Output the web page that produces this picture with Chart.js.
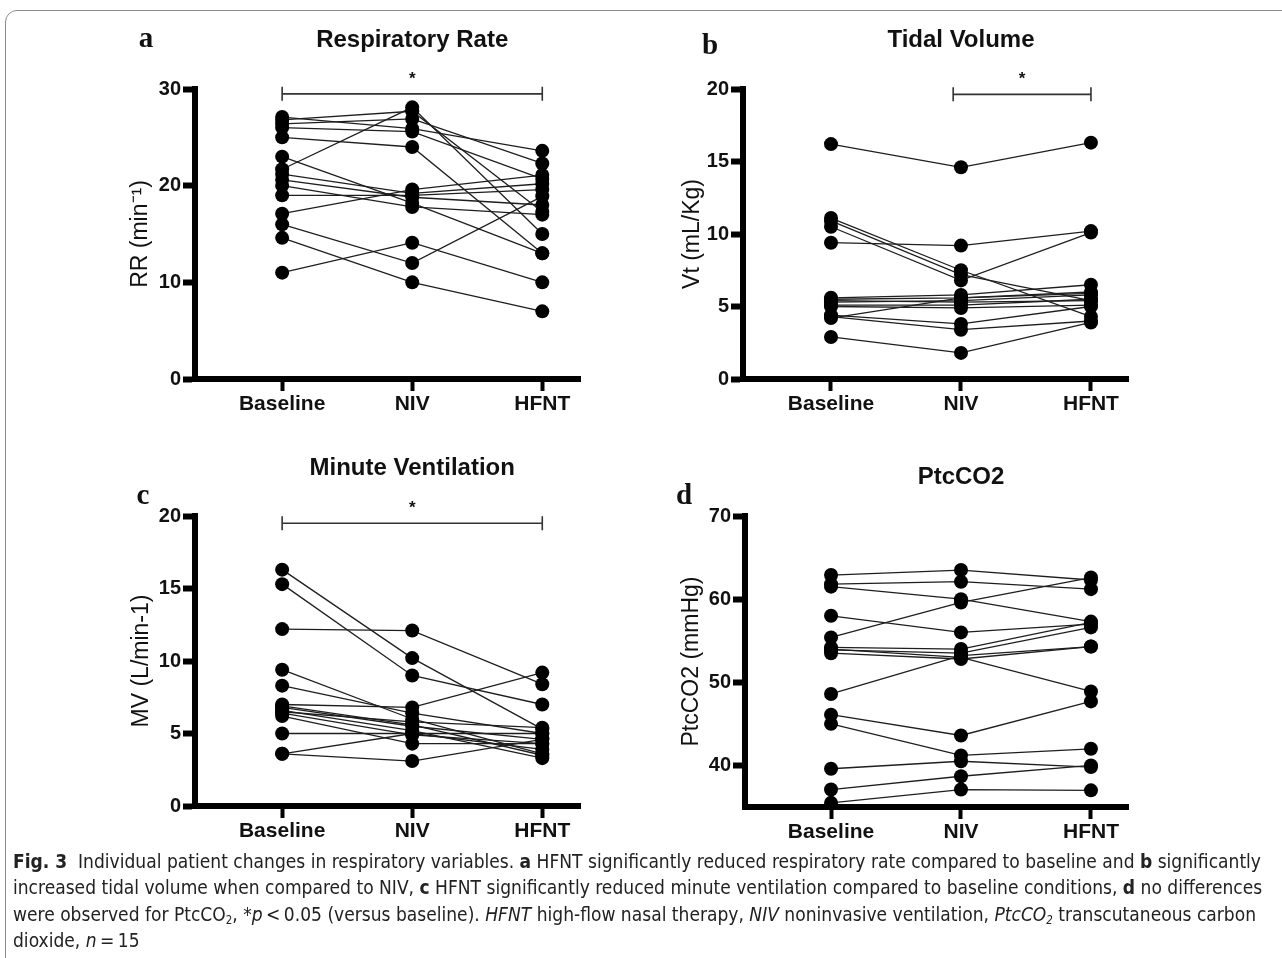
<!DOCTYPE html>
<html>
<head>
<meta charset="utf-8">
<script src="https://cdn.jsdelivr.net/npm/chart.js@4.4.1/dist/chart.umd.min.js"></script>
<style>
  body { margin: 0; background: #fff; width: 1282px; height: 958px; overflow: hidden; position: relative; }
  #frame { position: absolute; left: 5px; top: 10px; width: 1320px; height: 1000px;
           border: 1.5px solid #8c8c8c; border-top-left-radius: 12px; box-sizing: border-box; }
  canvas { position: absolute; }
  #caption { position: absolute; left: 13px; top: 848px; font-family: "Liberation Sans Narrow", "DejaVu Sans Condensed", "Liberation Sans", sans-serif;
             font-size: 20px; color: #222; }
  #caption .ln { white-space: nowrap; height: 26.3px; line-height: 26.3px; transform-origin: left center; }
  #caption sub { font-size: 12px; vertical-align: -3px; line-height: 0; }
</style>
</head>
<body>
<div id="frame"></div>
<canvas id="chartA" width="500" height="410" style="left:100px;top:20px"></canvas>
<canvas id="chartB" width="500" height="410" style="left:650px;top:20px"></canvas>
<canvas id="chartC" width="500" height="410" style="left:100px;top:440px"></canvas>
<canvas id="chartD" width="500" height="410" style="left:650px;top:440px"></canvas>

<div id="caption">
  <div class="ln"><b>Fig. 3</b>&nbsp; Individual patient changes in respiratory variables. <b>a</b> HFNT significantly reduced respiratory rate compared to baseline and <b>b</b> significantly</div>
  <div class="ln">increased tidal volume when compared to NIV, <b>c</b> HFNT significantly reduced minute ventilation compared to baseline conditions, <b>d</b> no differences</div>
  <div class="ln">were observed for PtcCO<sub>2</sub>, *<i>p</i>&thinsp;&lt;&thinsp;0.05 (versus baseline). <i>HFNT</i> high-flow nasal therapy, <i>NIV</i> noninvasive ventilation, <i>PtcCO<sub>2</sub></i> transcutaneous carbon</div>
  <div class="ln">dioxide, <i>n</i>&thinsp;=&thinsp;15</div>
</div>

<script>
const categories = ["Baseline", "NIV", "HFNT"];

// one entry per patient (n = 15)
const rrBaseline = [27.1, 26.8, 26.4, 26.0, 25.0, 23.0, 21.7, 21.2, 20.6, 20.0, 19.0, 17.1, 16.0, 14.6, 11.0];
const rrNIV      = [25.9, 27.7, 26.9, 25.6, 24.0, 18.2, 28.1, 19.2, 18.8, 17.8, 19.0, 19.6, 12.0, 10.0, 14.1];
const rrHFNT     = [23.6, 17.3, 22.3, 20.7, 13.0, 13.0, 15.0, 20.2, 18.0, 17.0, 19.6, 21.1, 18.9, 7.0, 10.0];

const vtBaseline = [16.2, 11.1, 10.9, 10.5, 9.4, 5.6, 5.5, 5.3, 5.1, 5.0, 4.4, 4.3, 4.2, 2.9, 5.4];
const vtNIV      = [14.6, 7.5, 7.2, 6.8, 9.2, 5.8, 5.6, 5.4, 5.1, 4.9, 3.8, 3.4, 5.6, 1.8, 5.3];
const vtHFNT     = [16.3, 4.3, 5.4, 10.1, 10.2, 6.5, 6.0, 5.8, 5.5, 5.1, 5.0, 4.0, 5.9, 3.9, 5.4];

const mvBaseline = [16.3, 15.3, 12.2, 9.4, 8.3, 7.0, 6.8, 6.6, 6.4, 6.2, 5.0, 3.6, 3.6, 6.5, 6.9];
const mvNIV      = [10.2, 9.0, 12.1, 6.0, 6.4, 6.8, 5.5, 5.2, 4.9, 4.3, 5.0, 3.1, 5.0, 5.8, 5.6];
const mvHFNT     = [5.3, 7.0, 8.4, 3.6, 5.0, 9.2, 4.6, 3.3, 4.3, 4.3, 5.0, 4.6, 3.9, 5.4, 3.5];

const pcBaseline = [62.9, 61.8, 61.5, 58.0, 55.4, 54.2, 53.9, 53.5, 54.0, 48.6, 46.1, 45.0, 39.6, 37.1, 35.5];
const pcNIV      = [63.5, 62.1, 60.0, 56.0, 59.6, 54.0, 53.5, 52.8, 53.0, 53.2, 43.6, 41.2, 40.5, 38.7, 37.1];
const pcHFNT     = [62.3, 61.2, 57.3, 57.0, 62.6, 57.2, 56.6, 54.3, 48.9, 54.3, 47.7, 42.0, 39.8, 40.0, 37.0];

const rrTicks = [0, 10, 20, 30];
const vtTicks = [0, 5, 10, 15, 20];
const mvTicks = [0, 5, 10, 15, 20];
const pcTicks = [40, 50, 60, 70];

const SANS = '"Liberation Sans", Arial, sans-serif';

const annot = {
  id: "annot",
  afterDraw(chart, args, o) {
    const { ctx, chartArea } = chart;
    const x = chart.scales.x, y = chart.scales.y;
    ctx.save();
    ctx.fillStyle = "#111";
    ctx.textAlign = "center";
    ctx.textBaseline = "middle";
    ctx.font = "bold 24px " + SANS;
    ctx.fillText(o.title, x.getPixelForValue(1), chartArea.top - o.titleGap);
    ctx.font = 'bold 29px "Liberation Serif", "DejaVu Serif", serif';
    ctx.fillText(o.letter, o.letterX, o.letterY);
    if (o.sig) {
      const x1 = x.getPixelForValue(o.sig[0]);
      const x2 = x.getPixelForValue(o.sig[1]);
      const yy = y.getPixelForValue(o.sig[2]);
      ctx.strokeStyle = "#333";
      ctx.lineWidth = 1.6;
      ctx.beginPath();
      ctx.moveTo(x1, yy); ctx.lineTo(x2, yy);
      ctx.moveTo(x1, yy - 7); ctx.lineTo(x1, yy + 7);
      ctx.moveTo(x2, yy - 7); ctx.lineTo(x2, yy + 7);
      ctx.stroke();
      ctx.font = "bold 17px " + SANS;
      ctx.fillText("*", (x1 + x2) / 2, yy - 15);
    }
    ctx.restore();
  }
};

function makePanel(id, base, niv, hfnt, p) {
  const datasets = base.map((b, i) => ({
    data: [{ x: 0, y: b }, { x: 1, y: niv[i] }, { x: 2, y: hfnt[i] }],
    showLine: true,
    borderColor: "#1e1e1e",
    borderWidth: 1.3,
    pointRadius: 7,
    pointBackgroundColor: "#000",
    pointBorderWidth: 0,
    clip: false
  }));
  const axisGrid = { display: true, drawOnChartArea: false, drawTicks: true, color: "#000" };
  return new Chart(document.getElementById(id), {
    type: "scatter",
    data: { datasets },
    plugins: [annot],
    options: {
      responsive: false,
      animation: false,
      devicePixelRatio: 1,
      events: [],
      layout: { padding: { top: p.padTop, right: p.padRight, left: 0, bottom: 0 } },
      plugins: {
        legend: { display: false },
        tooltip: { enabled: false },
        annot: p.annot
      },
      scales: {
        x: {
          type: "linear",
          min: p.xMin, max: p.xMax,
          afterBuildTicks: (ax) => { ax.ticks = categories.map((c, i) => ({ value: i })); },
          afterFit: (s) => { s.height = p.xHeight; },
          ticks: { callback: (v) => categories[v], font: { family: SANS, size: 21, weight: "bold" }, color: "#111", padding: 1, maxRotation: 0 },
          grid: { ...axisGrid, tickLength: 12, tickWidth: 4 },
          border: { display: true, width: 6, color: "#000" }
        },
        y: {
          min: p.yMin, max: p.yMax,
          afterBuildTicks: (ax) => { ax.ticks = p.yTicks.map((v) => ({ value: v })); },
          afterFit: (s) => { s.width = p.yWidth; },
          ticks: { font: { family: SANS, size: 20, weight: "bold" }, color: "#111", padding: 2 },
          grid: { ...axisGrid, tickLength: 12, tickWidth: 6 },
          border: { display: true, width: 6, color: "#000" },
          title: { display: true, text: p.yTitle, font: { family: SANS, size: 23 }, color: "#111", padding: { top: p.titlePad, bottom: 0 } }
        }
      }
    }
  });
}

makePanel("chartA", rrBaseline, rrNIV, rrHFNT, {
  padTop: 69, padRight: 20, xHeight: 51, yWidth: 95, xMin: -0.67, xMax: 2.29,
  yMin: 0, yMax: 30, yTicks: rrTicks, yTitle: "RR (min\u207B\u00B9)", titlePad: 27,
  annot: { title: "Respiratory Rate", titleGap: 49, letter: "a", letterX: 46, letterY: 20, sig: [0, 2, 29.5] }
});
makePanel("chartB", vtBaseline, vtNIV, vtHFNT, {
  padTop: 69, padRight: 22, xHeight: 51, yWidth: 93, xMin: -0.677, xMax: 2.285,
  yMin: 0, yMax: 20, yTicks: vtTicks, yTitle: "Vt (mL/Kg)", titlePad: 29,
  annot: { title: "Tidal Volume", titleGap: 49, letter: "b", letterX: 60, letterY: 27, sig: [0.94, 2, 19.63] }
});
makePanel("chartC", mvBaseline, mvNIV, mvHFNT, {
  padTop: 76, padRight: 20, xHeight: 44, yWidth: 95, xMin: -0.67, xMax: 2.29,
  yMin: 0, yMax: 20, yTicks: mvTicks, yTitle: "MV (L/min-1)", titlePad: 28,
  annot: { title: "Minute Ventilation", titleGap: 48, letter: "c", letterX: 43, letterY: 57, sig: [0, 2, 19.5] }
});
makePanel("chartD", pcBaseline, pcNIV, pcHFNT, {
  padTop: 76, padRight: 22, xHeight: 43, yWidth: 95, xMin: -0.662, xMax: 2.285,
  yMin: 35, yMax: 70, yTicks: pcTicks, yTitle: "PtcCO2 (mmHg)", titlePad: 28,
  annot: { title: "PtcCO2", titleGap: 39, letter: "d", letterX: 34, letterY: 57, sig: null }
});

// stretch the caption lines so the first one spans the same width as in the figure
const lines = document.querySelectorAll("#caption .ln");
const range = document.createRange();
range.selectNodeContents(lines[0]);
const w = range.getBoundingClientRect().width;
const sx = 1248 / w;
lines.forEach((l) => { l.style.transform = "scaleX(" + sx + ")"; });
</script>
</body>
</html>
